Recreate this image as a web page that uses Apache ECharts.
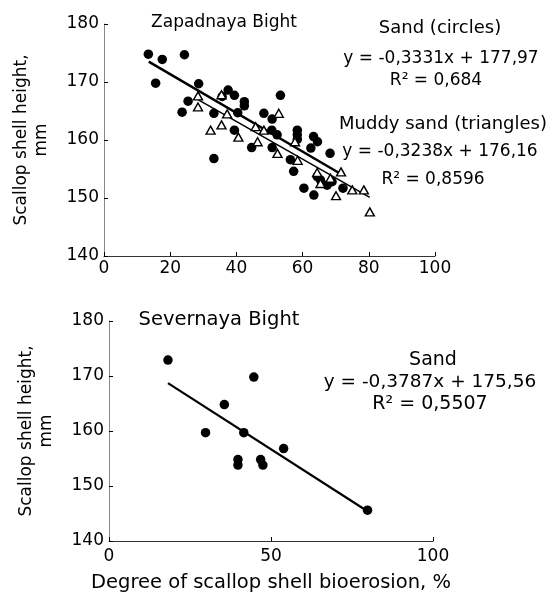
<!DOCTYPE html>
<html><head><meta charset="utf-8">
<script src="https://cdn.jsdelivr.net/npm/echarts@6/dist/echarts.min.js"></script>
<style>html,body{margin:0;padding:0;background:#fff}#c{width:552px;height:598px}</style>
</head><body><div id="c"></div>
<script>
// ---- Zapadnaya Bight, sand (circles)
const zapSandX = [13.4,17.6,24.3,15.6,28.6,25.4,23.6,33.2,37.5,35.7,39.4,42.4,42.4,40.4,48.3,50.8,53.3,39.4,44.6,50.7,50.8,33.2,52.3,58.4,58.4,58.4,56.3,57.3,63.3,64.5,62.5,68.3,60.4,63.4,65.4,67.4,68.9,72.2,64.4];
const zapSandY = [174.8,173.9,174.7,169.8,169.7,166.7,164.8,164.6,168.6,167.5,167.7,166.6,165.9,164.7,164.6,163.6,167.7,161.7,158.7,161.7,158.7,156.8,160.9,161.7,160.9,160.1,156.6,154.6,160.6,159.7,158.6,157.7,151.7,150.5,153.1,152.2,152.8,151.7,153.7];
// ---- Zapadnaya Bight, muddy sand (triangles)
const zapMudX = [28.4,28.4,32.2,35.5,37.2,35.5,40.6,45.8,48.3,46.4,52.4,52.8,57.7,58.5,64.4,65.4,68.4,71.6,70.1,75.0,78.5,80.3];
const zapMudY = [167.6,165.7,161.7,162.6,164.5,167.8,160.5,162.3,161.7,159.7,157.7,164.6,159.7,156.5,154.4,152.5,153.4,154.5,150.4,151.4,151.4,147.6];
// ---- trend line end points
const zapSandLineX = [13.5,71.7];
const zapSandLineY = [173.5,154.1];
const zapMudLineX = [28,80.3];
const zapMudLineY = [167.1,150.1];
// ---- Severnaya Bight, sand
const sevSandX = [18.2,44.7,35.6,29.8,41.6,53.9,39.8,39.8,46.8,47.5,79.8];
const sevSandY = [172.9,169.8,164.8,159.7,159.7,156.8,154.8,153.8,154.8,153.8,145.6];
const sevLineX = [18.2,79.8];
const sevLineY = [168.7,145.4];
// ---- axes / ticks
const yMin = 140, yMax = 180, yStep = 10;
const xMin = 0, xMax = 100, xStepTop = 20, xStepBottom = 50;
// ---- texts
const yName = 'Scallop shell height,\nmm';
const xName = 'Degree of scallop shell bioerosion, %';
const topTitle = 'Zapadnaya Bight';
const bottomTitle = 'Severnaya Bight';
const topNotes = [
  ['Sand (circles)', 440, 28, 18],
  ['y = -0,3331x + 177,97', 441, 59, 17],
  ['R\u00b2 = 0,684', 436, 81, 17],
  ['Muddy sand (triangles)', 443, 124, 18],
  ['y = -0,3238x + 176,16', 440, 152, 17],
  ['R\u00b2 = 0,8596', 433, 180, 17]
];
const bottomNotes = [
  ['Sand', 433, 360, 19],
  ['y = -0,3787x + 175,56', 430, 382, 18.5],
  ['R\u00b2 = 0,5507', 430, 404, 19]
];

const zip = (a, b) => a.map((v, i) => [v, b[i]]);
const FF = 'DejaVu Sans';

function xAx(grid, step, withName) {
  const o = {
    type: 'value', gridIndex: grid, min: xMin, max: xMax, interval: step,
    axisLine: { show: true, onZero: false, lineStyle: { color: '#333', width: 1 } },
    axisTick: { show: true, inside: true, length: 4, lineStyle: { color: '#000' } },
    axisLabel: { color: '#000', fontSize: 17, fontFamily: FF, margin: grid === 0 ? 4 : 7 },
    splitLine: { show: false }
  };
  if (withName) {
    Object.assign(o, { name: xName, nameLocation: 'middle', nameGap: 32,
      nameTextStyle: { color: '#000', fontSize: 19.5, fontFamily: FF } });
  }
  return o;
}
function yAx(grid) {
  return {
    type: 'value', gridIndex: grid, min: yMin, max: yMax, interval: yStep,
    axisLine: { show: true, onZero: false, lineStyle: { color: '#888', width: 1 } },
    axisTick: { show: true, inside: true, length: 4, lineStyle: { color: '#000' } },
    axisLabel: { color: '#000', fontSize: 17, fontFamily: FF, margin: 5 },
    splitLine: { show: false },
    name: yName, nameLocation: 'middle', nameRotate: 90, nameGap: 52,
    nameTextStyle: { color: '#000', fontSize: 17, fontFamily: FF, lineHeight: 20, align: 'center' }
  };
}
function noteEl(t) {
  return { type: 'text', x: t[1], y: t[2], z: 10,
    style: { text: t[0], align: 'center', verticalAlign: 'middle',
      fontSize: t[3], fontFamily: FF, fill: '#000' } };
}

const chart = echarts.init(document.getElementById('c'), null, { renderer: 'canvas' });
chart.setOption({
  animation: false,
  backgroundColor: '#fff',
  grid: [
    { left: 104, right: 117, top: 24, height: 232 },
    { left: 109, right: 119, top: 321, height: 220 }
  ],
  xAxis: [xAx(0, xStepTop, false), xAx(1, xStepBottom, true)],
  yAxis: [yAx(0), yAx(1)],
  graphic: [
    noteEl([topTitle, 224, 23, 17]),
    noteEl([bottomTitle, 219, 320, 19.5])
  ].concat(topNotes.map(noteEl), bottomNotes.map(noteEl)),
  series: [
    { type: 'line', xAxisIndex: 0, yAxisIndex: 0, data: zip(zapSandLineX, zapSandLineY),
      symbol: 'none', lineStyle: { color: '#000', width: 2.5 }, z: 3 },
    { type: 'line', xAxisIndex: 0, yAxisIndex: 0, data: zip(zapMudLineX, zapMudLineY),
      symbol: 'none', lineStyle: { color: '#000', width: 1.5 }, z: 3 },
    { type: 'scatter', xAxisIndex: 0, yAxisIndex: 0, data: zip(zapSandX, zapSandY),
      symbol: 'circle', symbolSize: 9.5, itemStyle: { color: '#000', opacity: 1 }, z: 2 },
    { type: 'scatter', xAxisIndex: 0, yAxisIndex: 0, data: zip(zapMudX, zapMudY),
      symbol: 'triangle', symbolSize: [9, 8],
      itemStyle: { color: '#fff', borderColor: '#000', borderWidth: 1.4, opacity: 1 }, z: 4 },
    { type: 'line', xAxisIndex: 1, yAxisIndex: 1, data: zip(sevLineX, sevLineY),
      symbol: 'none', lineStyle: { color: '#000', width: 2.2 }, z: 3 },
    { type: 'scatter', xAxisIndex: 1, yAxisIndex: 1, data: zip(sevSandX, sevSandY),
      symbol: 'circle', symbolSize: 9.5, itemStyle: { color: '#000', opacity: 1 }, z: 2 }
  ]
});
</script>
</body></html>
